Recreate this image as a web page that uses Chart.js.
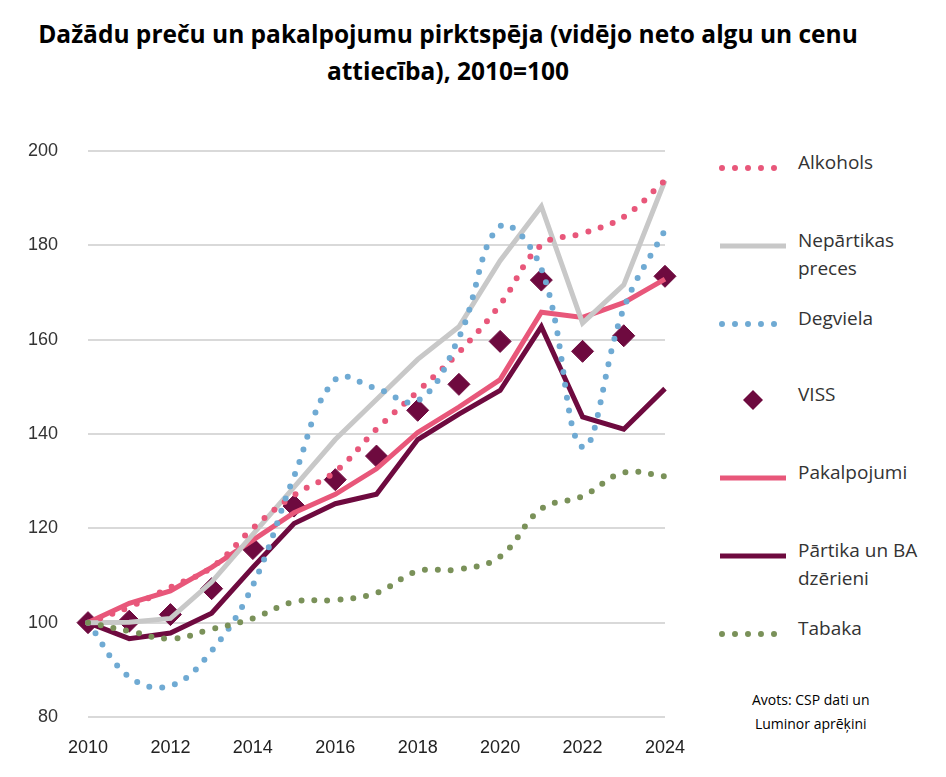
<!DOCTYPE html>
<html>
<head>
<meta charset="utf-8">
<script src="https://cdn.jsdelivr.net/npm/chart.js@4"></script>
<style>
body { margin: 0; background: #fff; font-family: "Open Sans", sans-serif; }
#wrap { position: relative; width: 946px; height: 777px; overflow: hidden; }
#title { position: absolute; left: 0; top: 15px; width: 896px; text-align: center; font-weight: bold; font-size: 24.5px; line-height: 37px; color: #000; }
#box { position: absolute; left: 0; top: 110px; width: 705px; height: 667px; }
.leg { position: absolute; left: 718px; font-size: 19px; color: #333; line-height: 28px; }
.leg svg { position: absolute; left: 0; top: 4px; }
.leg span { position: absolute; left: 80px; top: -14px; white-space: nowrap; }
#src { position: absolute; left: 752px; top: 688px; font-size: 14px; line-height: 24px; color: #000; text-align: center; }
</style>
</head>
<body>
<div id="wrap">
  <div id="title">Dažādu preču un pakalpojumu pirktspēja (vidējo neto algu un cenu<br>attiecība), 2010=100</div>
  <div id="box"><canvas id="lineChart"></canvas></div>
  <div id="legend"></div>
  <div id="src">Avots: CSP dati un<br>Luminor aprēķini</div>
</div>
<script>
var years = [2010, 2011, 2012, 2013, 2014, 2015, 2016, 2017, 2018, 2019, 2020, 2021, 2022, 2023, 2024];
var yTicks = [80, 100, 120, 140, 160, 180, 200];

var alkohols = [100, 103.3, 107.5, 111.7, 120, 127, 132, 141, 149, 157.3, 167.4, 180, 182.5, 186, 193.7];
var nepartikas = [100, 100.1, 100.9, 108.6, 118.7, 128.7, 138.8, 147.3, 155.8, 162.7, 176.7, 188.2, 163.5, 171.6, 193.7];
var degviela = [100, 88.5, 86.6, 94, 107.9, 131, 151.5, 149.6, 147, 160.4, 184, 175, 137.2, 166.6, 183.2];
var viss = [100, 100.3, 101.7, 107.2, 115.7, 124.7, 130.3, 135.3, 145, 150.5, 159.6, 172.6, 157.5, 160.8, 173.4];
var pakalpojumi = [100, 104.1, 106.7, 111.7, 117.5, 123.3, 127.2, 132.6, 140.3, 145.7, 151.5, 165.8, 164.7, 167.8, 172.8];
var partika = [100, 96.6, 97.8, 102, 111.7, 121, 125.2, 127.2, 138.8, 144.2, 149.2, 162.7, 143.6, 141, 149.6];
var tabaka = [100, 98.2, 96.6, 98.6, 100.9, 104.4, 104.8, 106.3, 110.9, 111.3, 114, 124.1, 126.8, 131.8, 131];

var pink = '#e8577a', grey = '#c8c8c8', blue = '#6faad3', wine = '#6e0a3f', green = '#7a9159';

function dotted(label, data, color) {
    return { label: label, data: data, borderColor: color, borderWidth: 6, borderDash: [0, 13],
             borderCapStyle: 'round', tension: 0.4, pointRadius: 0, fill: false };
}
function solid(label, data, color) {
    return { label: label, data: data, borderColor: color, borderWidth: 5, tension: 0,
             pointRadius: 0, fill: false };
}

var ctx = document.getElementById('lineChart').getContext('2d');
var lineChart = new Chart(ctx, {
    type: 'line',
    data: {
        labels: years,
        datasets: [
            dotted('Tabaka', tabaka, green),
            dotted('Degviela', degviela, blue),
            dotted('Alkohols', alkohols, pink),
            solid('Nepārtikas preces', nepartikas, grey),
            solid('Pārtika un BA dzērieni', partika, wine),
            solid('Pakalpojumi', pakalpojumi, pink),
            { label: 'VISS', data: viss, showLine: false, pointStyle: 'rectRot', pointRadius: 11,
              backgroundColor: wine, borderColor: wine }
        ]
    },
    options: {
        responsive: true,
        maintainAspectRatio: false,
        animation: false,
        layout: { padding: { top: 0, right: 19, left: 0, bottom: 0 } },
        plugins: { legend: { display: false }, tooltip: { enabled: false } },
        scales: {
            x: {
                offset: false,
                grid: { display: false, drawTicks: false },
                border: { color: '#d9d9d9' },
                ticks: {
                    autoSkip: false, maxRotation: 0, color: '#222', font: { size: 18 }, padding: 20,
                    callback: function (v, i) { return years[i] % 2 === 0 ? years[i] : ''; }
                },
                afterFit: function (s) { s.height = 60; }
            },
            y: {
                min: 80, max: 200,
                afterBuildTicks: function (s) { s.ticks = yTicks.map(function (v) { return { value: v }; }); },
                grid: { color: '#d9d9d9', lineWidth: 2, drawTicks: false },
                border: { display: false },
                ticks: { color: '#333', font: { size: 18 }, padding: 30 },
                afterFit: function (s) { s.width = 88; }
            }
        }
    }
});

// legend on the right
var legendItems = [
    { text: 'Alkohols', y: 162, kind: 'dot', color: pink },
    { text: 'Nepārtikas<br>preces', y: 240, kind: 'line', color: grey },
    { text: 'Degviela', y: 318, kind: 'dot', color: blue },
    { text: 'VISS', y: 394, kind: 'diamond', color: wine },
    { text: 'Pakalpojumi', y: 472, kind: 'line', color: pink },
    { text: 'Pārtika un BA<br>dzērieni', y: 550, kind: 'line', color: wine },
    { text: 'Tabaka', y: 628, kind: 'dot', color: green }
];
var html = '';
legendItems.forEach(function (it) {
    var sw = '';
    if (it.kind === 'dot') {
        sw = '<line x1="4" y1="10" x2="66" y2="10" stroke="' + it.color + '" stroke-width="6" stroke-linecap="round" stroke-dasharray="0 13"/>';
    } else if (it.kind === 'line') {
        sw = '<line x1="2" y1="10" x2="68" y2="10" stroke="' + it.color + '" stroke-width="5"/>';
    } else {
        sw = '<polygon points="35,0 45,10 35,20 25,10" fill="' + it.color + '"/>';
    }
    html += '<div class="leg" style="top:' + (it.y - 8) + 'px"><svg width="70" height="20">' + sw +
            '</svg><span style="top:-6px">' + it.text + '</span></div>';
});
document.getElementById('legend').innerHTML = html;
</script>
</body>
</html>
